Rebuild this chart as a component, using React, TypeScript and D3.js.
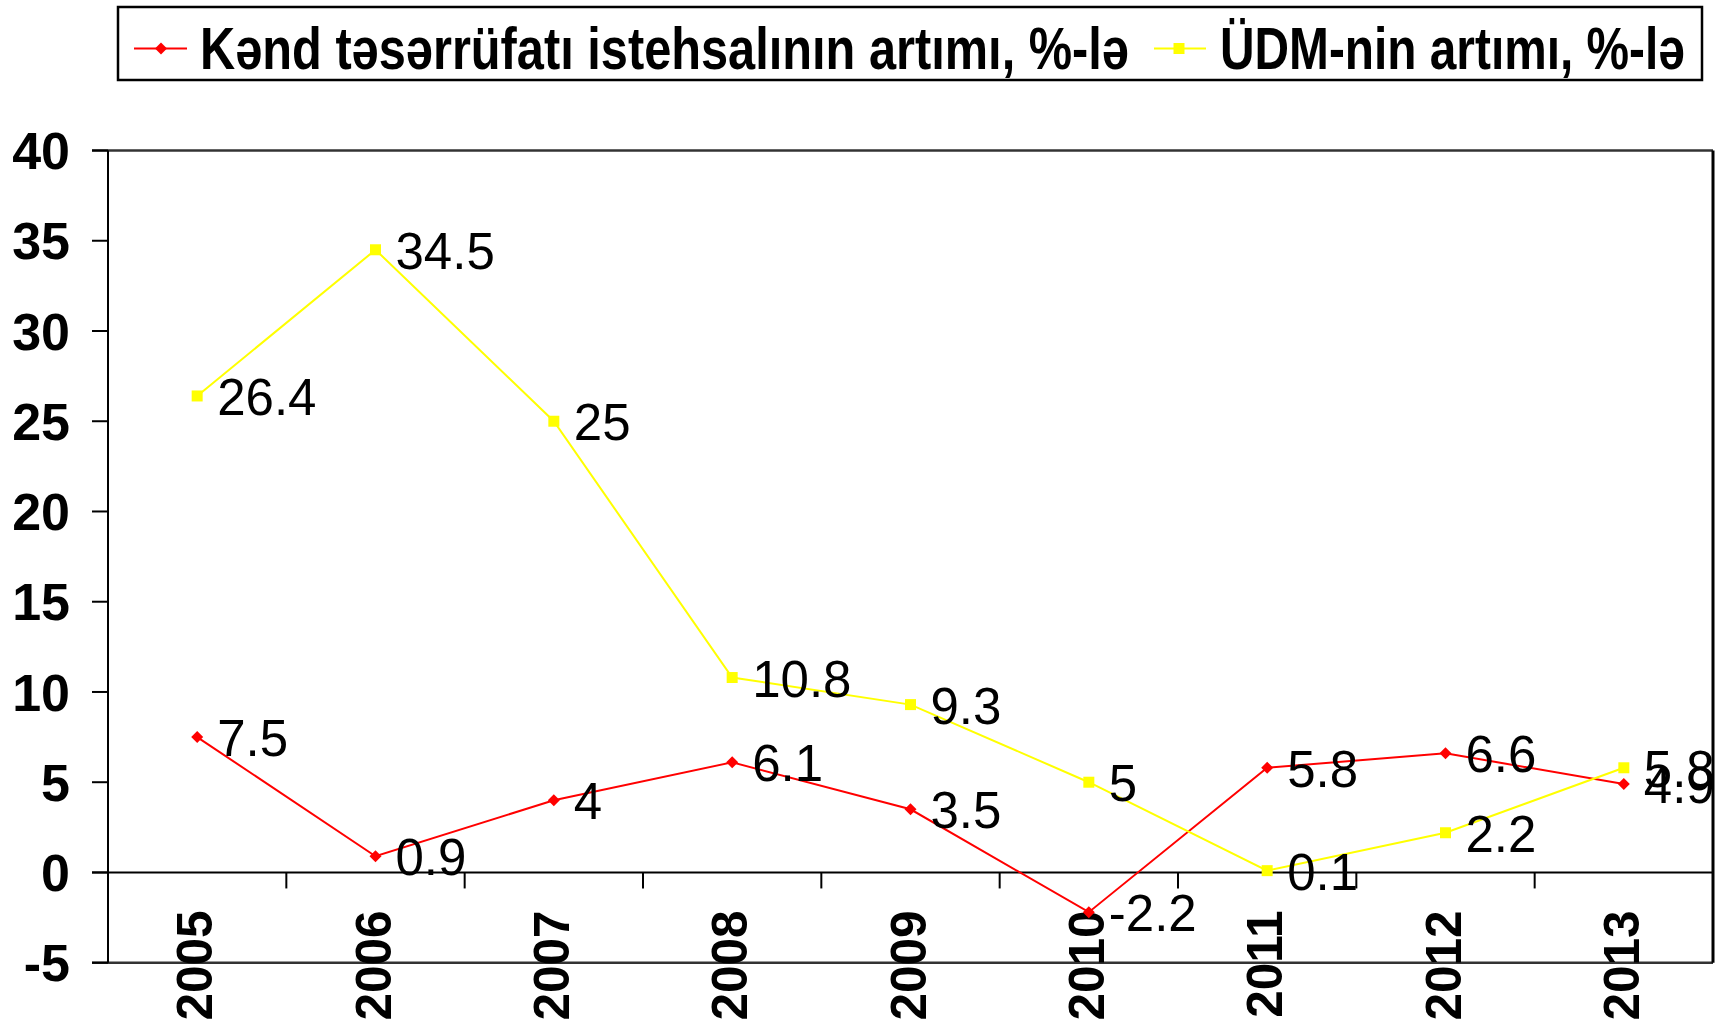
import React, { useLayoutEffect, useRef, useState } from 'react';
import * as d3 from 'd3';

const years = ['2005', '2006', '2007', '2008', '2009', '2010', '2011', '2012', '2013'];
const agriGrowth = [7.5, 0.9, 4, 6.1, 3.5, -2.2, 5.8, 6.6, 4.9];
const gdpGrowth = [26.4, 34.5, 25, 10.8, 9.3, 5, 0.1, 2.2, 5.8];
const yTicks = [-5, 0, 5, 10, 15, 20, 25, 30, 35, 40];
const legendLabels = ['Kənd təsərrüfatı istehsalının artımı, %-lə', 'ÜDM-nin artımı, %-lə'];

const W = 1727;
const H = 1024;
const left = 108;
const right = 1713;
const top = 150.5;
const bottom = 962.7;
const FONT = '"Liberation Sans", Arial, sans-serif';
const LEGEND_FONT = '"Liberation Sans Narrow", "Liberation Sans", Arial, sans-serif';

function FitText({ x, y, width, children }: { x: number; y: number; width: number; children: string }) {
  const ref = useRef<SVGTextElement>(null);
  const [s, setS] = useState(1);
  useLayoutEffect(() => {
    if (ref.current) {
      const len = ref.current.getComputedTextLength();
      if (len > 0) setS(width / len);
    }
  }, [width, children]);
  return (
    <text
      ref={ref}
      transform={`translate(${x},${y}) scale(${s},1)`}
      fontSize={59}
      fontWeight="bold"
      fontFamily={LEGEND_FONT}
    >
      {children}
    </text>
  );
}

export default function App() {
  const x = d3.scaleBand<string>().domain(years).range([left, right]).paddingInner(0).paddingOuter(0);
  const y = d3.scaleLinear().domain([-5, 40]).range([bottom, top]);
  const cx = (i: number) => (x(years[i]) as number) + x.bandwidth() / 2;
  const line = d3.line<number>().x((_, i) => cx(i)).y((d) => y(d));
  const diamond = d3.symbol(d3.symbolSquare, 72)() as string;
  const square = d3.symbol(d3.symbolSquare, 121)() as string;
  const y0 = y(0);

  const series = [
    { values: agriGrowth, color: '#ff0000', marker: 'diamond' },
    { values: gdpGrowth, color: '#ffff00', marker: 'square' },
  ];

  const markerPath = (m: string, color: string, tx: number, ty: number, key?: any) =>
    m === 'diamond' ? (
      <path key={key} d={diamond} transform={`translate(${tx},${ty}) rotate(45)`} fill={color} />
    ) : (
      <path key={key} d={square} transform={`translate(${tx},${ty})`} fill={color} />
    );

  return (
    <svg width={W} height={H} style={{ position: 'absolute', left: 0, top: 0, background: '#fff' }} fontFamily={FONT}>
      <defs>
        <clipPath id="lblclip">
          <rect x={0} y={0} width={1715} height={H} />
        </clipPath>
      </defs>
      <rect x={0} y={0} width={W} height={H} fill="#fff" />
      {/* Legend */}
      <rect x={118} y={7} width={1584} height={73} fill="#fff" stroke="#000" strokeWidth={2.5} />
      <line x1={134} x2={187} y1={48.5} y2={48.5} stroke="#ff0000" strokeWidth={2} />
      {markerPath('diamond', '#ff0000', 161, 48.5)}
      <FitText x={200} y={69} width={929}>
        {legendLabels[0]}
      </FitText>
      <line x1={1154} x2={1206} y1={48.5} y2={48.5} stroke="#ffff00" strokeWidth={2} />
      {markerPath('square', '#ffff00', 1179, 48.5)}
      <FitText x={1220} y={69} width={465}>
        {legendLabels[1]}
      </FitText>

      {/* Plot frame */}
      <line x1={92} x2={right} y1={top} y2={top} stroke="#333" strokeWidth={2.5} />
      <line x1={92} x2={right} y1={bottom} y2={bottom} stroke="#333" strokeWidth={2.5} />
      <line x1={right} x2={right} y1={top} y2={bottom} stroke="#000" strokeWidth={3} />
      <line x1={left} x2={left} y1={top} y2={bottom} stroke="#000" strokeWidth={2} />
      {yTicks.map((t) => (
        <g key={t}>
          <line x1={92} x2={left} y1={y(t)} y2={y(t)} stroke="#000" strokeWidth={2} />
          <text x={70} y={y(t)} dy="0.36em" textAnchor="end" fontSize={52} fontWeight="bold">
            {t}
          </text>
        </g>
      ))}
      {/* zero axis */}
      <line x1={92} x2={right} y1={y0} y2={y0} stroke="#000" strokeWidth={2} />
      {years.slice(1).map((yr) => (
        <line key={yr} x1={x(yr) as number} x2={x(yr) as number} y1={y0} y2={y0 + 16} stroke="#000" strokeWidth={2} />
      ))}
      {years.map((yr, i) => (
        <text
          key={yr}
          transform={`translate(${cx(i) + 15},${y0 + 38}) rotate(-90)`}
          textAnchor="end"
          fontSize={49.5}
          fontWeight="bold"
        >
          {yr}
        </text>
      ))}

      {/* Series */}
      {series.map((s, si) => (
        <g key={si}>
          <path d={line(s.values) as string} fill="none" stroke={s.color} strokeWidth={2} />
          {s.values.map((v, i) => markerPath(s.marker, s.color, cx(i), y(v), i))}
        </g>
      ))}
      <g clipPath="url(#lblclip)">
        {series.map((s, si) =>
          s.values.map((v, i) => (
            <text key={`${si}-${i}`} x={cx(i) + 20} y={y(v) + 19} fontSize={51}>
              {String(v)}
            </text>
          ))
        )}
      </g>
    </svg>
  );
}
